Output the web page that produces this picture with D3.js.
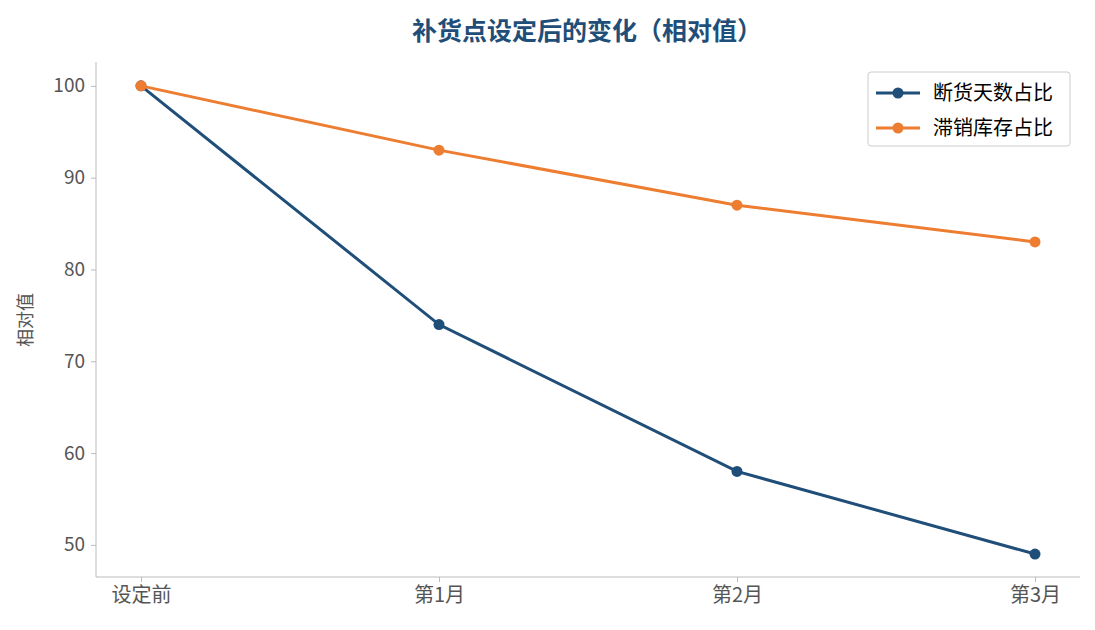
<!DOCTYPE html><html><head><meta charset="utf-8"><script src="https://cdn.jsdelivr.net/npm/d3@7"></script>
<style>body{margin:0;background:#fff;font-family:"Noto Sans CJK SC","Noto Sans",sans-serif}</style></head><body><svg id="c" width="1095" height="630"></svg>
<script>
const categories=["设定前","第1月","第2月","第3月"];
const stockout=[100,74,58,49];
const overstock=[100,93,87,83];
const seriesNames=["断货天数占比","滞销库存占比"];
const colors=["#1f4e79","#ed7d31"];
const yTicks=[50,60,70,80,90,100];
const svg=d3.select("#c");
const L=96,R=1080,T=62,B=577;
const x=d3.scalePoint().domain(categories).range([141,1035]);
const y=d3.scaleLinear().domain([46.5,102.6]).range([B,T]);
svg.append("text").attr("x",587).attr("y",40).attr("text-anchor","middle").attr("font-size",25).attr("font-weight","bold").attr("fill","#1f4e79").text("补货点设定后的变化（相对值）");
const gx=svg.append("g").attr("transform",`translate(0,${B})`).call(d3.axisBottom(x).tickSize(5).tickPadding(6));
gx.select(".domain").attr("d",`M${L},0H${R}`);
const gy=svg.append("g").attr("transform",`translate(${L},0)`).call(d3.axisLeft(y).tickValues(yTicks).tickSize(5).tickPadding(6));
gy.select(".domain").attr("d",`M0,${T}V${B}`);
[gx,gy].forEach(g=>{g.selectAll(".domain,line").attr("stroke","#bbb");g.selectAll("text").attr("font-size",19).attr("fill","#555").attr("font-family","'Noto Sans CJK SC',sans-serif");});
gx.selectAll("text").attr("font-size",20);
svg.append("text").attr("transform","translate(32,320) rotate(-90)").attr("text-anchor","middle").attr("font-size",18).attr("fill","#555").text("相对值");
const line=d3.line().x((d,i)=>x(categories[i])).y(d=>y(d));
[stockout,overstock].forEach((s,k)=>{
svg.append("path").attr("d",line(s)).attr("fill","none").attr("stroke",colors[k]).attr("stroke-width",3);
svg.selectAll(null).data(s).enter().append("circle").attr("cx",(d,i)=>x(categories[i])).attr("cy",d=>y(d)).attr("r",5.5).attr("fill",colors[k]);
});
const lg=svg.append("g");
lg.append("rect").attr("x",868).attr("y",72).attr("width",202).attr("height",74).attr("rx",3).attr("fill","#fff").attr("stroke","#ccc");
seriesNames.forEach((n,k)=>{const yy=93+k*35;
lg.append("line").attr("x1",876).attr("x2",920).attr("y1",yy).attr("y2",yy).attr("stroke",colors[k]).attr("stroke-width",3);
lg.append("circle").attr("cx",898).attr("cy",yy).attr("r",5.5).attr("fill",colors[k]);
lg.append("text").attr("x",933).attr("y",yy+7).attr("font-size",20).attr("fill","#000").text(n);});
</script></body></html>
